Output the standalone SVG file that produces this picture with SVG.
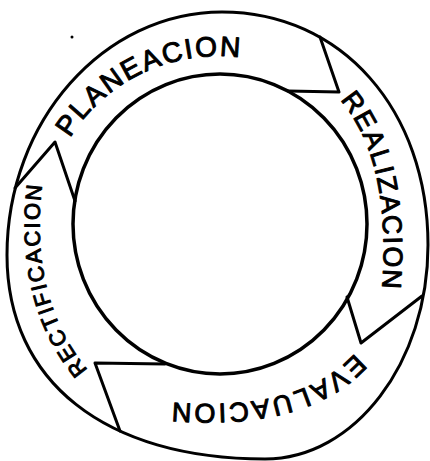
<svg xmlns="http://www.w3.org/2000/svg" width="430" height="461" viewBox="0 0 430 461">
<style>
.ln{fill:none;stroke:#000;stroke-linejoin:round;stroke-linecap:round}
.lbl{font-family:"Liberation Sans",Arial,sans-serif;fill:#000;stroke:#000;stroke-width:1;stroke-linejoin:round}
</style>
<defs>
<path id="pPlan" d="M70,138 A174,174 0 0 1 243,58"/>
<path id="pReal" d="M340,100 Q392,160 382,290"/>
<path id="pEval" d="M355,353 Q300,414 167,402"/>
<path id="pRect" d="M88,370 Q29,300 42,185"/>
</defs>
<rect width="430" height="461" fill="#fff"/>
<g id="ring">
<path class="ln" stroke-width="3" d="M222,12 C341.5,12 428,110 428,245 C428,362.7 354.7,459 265,459 C105,459 7,381.5 7,255 C7,121.3 103.7,12 222,12 Z"/>
<ellipse class="ln" stroke-width="3.5" cx="220" cy="224" rx="147" ry="150"/>
</g>
<g id="connectors">
<polyline class="ln" stroke-width="3" points="320,37 339,92 288,91"/>
<polyline class="ln" stroke-width="3" points="347,297 361,343 422,296"/>
<polyline class="ln" stroke-width="3" points="165,364 95,363 120,431"/>
<polyline class="ln" stroke-width="3" points="15,188 55,142 75,201"/>
</g>
<g id="planeacion">
<text class="lbl" font-size="28" textLength="198" lengthAdjust="spacing"><textPath href="#pPlan">PLANEACION</textPath></text>
</g>
<g id="realizacion">
<text class="lbl" font-size="27" textLength="198" lengthAdjust="spacing"><textPath href="#pReal">REALIZACION</textPath></text>
</g>
<g id="evaluacion">
<text class="lbl" font-size="27" textLength="196" lengthAdjust="spacing"><textPath href="#pEval">EVALUACION</textPath></text>
</g>
<g id="rectificacion">
<text class="lbl" font-size="22" textLength="196" lengthAdjust="spacing"><textPath href="#pRect">RECTIFICACION</textPath></text>
</g>
<circle cx="72" cy="37" r="1.5" fill="#000"/>
</svg>
